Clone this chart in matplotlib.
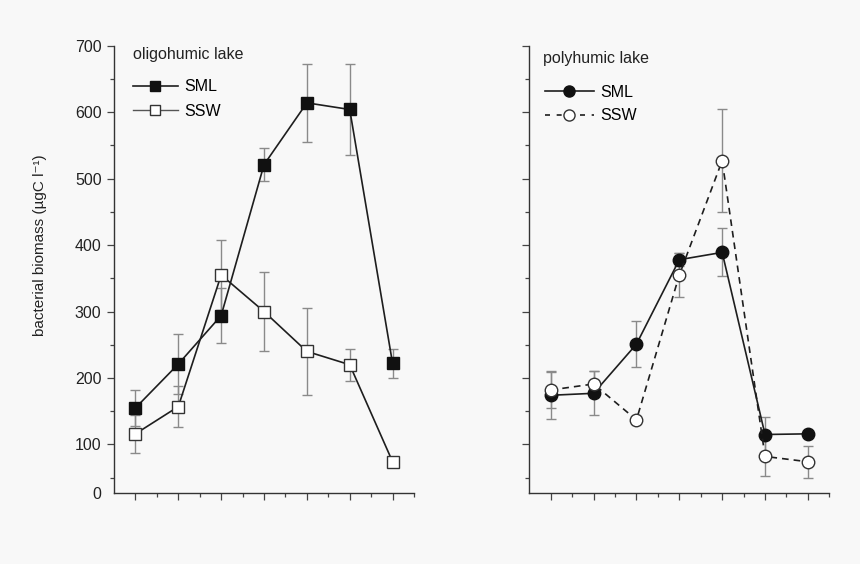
import numpy as np
import matplotlib.pyplot as plt
from matplotlib.lines import Line2D

plt.rcParams['font.family'] = ['Liberation Sans', 'DejaVu Sans']

x = np.arange(1, 8)

# oligohumic lake
oli_sml = [155, 221, 294, 521, 614, 604, 222]
oli_sml_err = [27, 45, 41, 25, 59, 68, 22]
oli_ssw = [116, 157, 355, 300, 240, 220, 74]
oli_ssw_err = [29, 31, 52, 60, 66, 24, 3]

# polyhumic lake
poly_sml = [174, 177, 251, 378, 389, 115, 116]
poly_sml_err = [36, 33, 35, 10, 36, 27, 4]
poly_ssw = [182, 191, 137, 355, 527, 82, 74]
poly_ssw_err = [27, 20, 6, 33, 77, 29, 24]

ytick_vals = [100, 200, 300, 400, 500, 600, 700]
ytick_labels = ['100', '200', '300', '400', '500', '600', '700']
y_bottom = 27

bg = '#f8f8f8'
dark = '#1e1e1e'
errc = '#8a8a8a'

fig = plt.figure(figsize=(8.6, 5.64), dpi=100, facecolor=bg)
ax1 = fig.add_axes([0.1326, 0.1259, 0.3488, 0.7931])
ax2 = fig.add_axes([0.6155, 0.1259, 0.3488, 0.7931])


def style_axis(ax, labels):
    ax.set_facecolor(bg)
    ax.spines['top'].set_visible(False)
    ax.spines['right'].set_visible(False)
    for s in ['left', 'bottom']:
        ax.spines[s].set_color('#333333')
        ax.spines[s].set_linewidth(1.0)
    ax.set_xlim(0.5, 7.5)
    ax.set_ylim(y_bottom, 700)
    ax.set_xticks(x)
    ax.set_xticks(np.arange(1.5, 8, 1), minor=True)
    ax.set_xticklabels([])
    if labels:
        ax.set_yticks([y_bottom] + ytick_vals)
        ax.set_yticklabels(['0'] + ytick_labels, fontsize=11.5, color='#222222')
        ax.yaxis.get_major_ticks()[0].tick1line.set_visible(False)
    else:
        ax.set_yticks(ytick_vals)
        ax.set_yticklabels([])
    ax.set_yticks(np.arange(50, 700, 100), minor=True)
    ax.tick_params(which='major', length=5, width=0.9, color='#444444', direction='out', pad=4)
    ax.tick_params(which='minor', length=3, width=0.9, color='#444444', direction='out')


style_axis(ax1, True)
style_axis(ax2, False)

# left panel
ax1.errorbar(x, oli_ssw, yerr=oli_ssw_err, fmt='none', ecolor=errc, elinewidth=1, capsize=3.5, capthick=1, clip_on=False, zorder=2)
ax1.errorbar(x, oli_sml, yerr=oli_sml_err, fmt='none', ecolor=errc, elinewidth=1, capsize=3.5, capthick=1, clip_on=False, zorder=2)
ax1.plot(x, oli_sml, '-', color=dark, lw=1.2, marker='s', ms=8.5, mfc='#111111', mec='#111111', clip_on=False, zorder=3)
ax1.plot(x, oli_ssw, '-', color=dark, lw=1.2, marker='s', ms=8.5, mfc='white', mec='#333333', mew=1, clip_on=False, zorder=4)

ax1.text(0.063, 0.98, 'oligohumic lake', transform=ax1.transAxes, fontsize=11.5, color='#222222', va='center', ha='left')
h1 = [Line2D([], [], color=dark, lw=1.2, marker='s', ms=7, mfc='#111111', mec='#111111'),
      Line2D([], [], color='#555555', lw=1.0, marker='s', ms=7, mfc='white', mec='#333333')]
ax1.legend(h1, ['SML', 'SSW'], loc='upper left', bbox_to_anchor=(0.063, 0.925), frameon=False,
           fontsize=11.5, handlelength=2.8, handletextpad=0.4, labelspacing=0.6, borderpad=0, borderaxespad=0)

ax1.set_ylabel('bacterial biomass (\u00b5gC l\u207b\u00b9)', fontsize=11, color='#222222')
ax1.yaxis.set_label_coords(-0.225, 0.553)

# right panel
ax2.errorbar(x, poly_ssw, yerr=poly_ssw_err, fmt='none', ecolor=errc, elinewidth=1, capsize=3.5, capthick=1, clip_on=False, zorder=2)
ax2.errorbar(x, poly_sml, yerr=poly_sml_err, fmt='none', ecolor=errc, elinewidth=1, capsize=3.5, capthick=1, clip_on=False, zorder=2)
ax2.plot(x, poly_sml, '-', color=dark, lw=1.2, marker='o', ms=9, mfc='#111111', mec='#111111', clip_on=False, zorder=3)
ax2.plot(x, poly_ssw, '--', color=dark, lw=1.2, dashes=(4, 3), marker='o', ms=9, mfc='white', mec='#333333', mew=1, clip_on=False, zorder=4)

ax2.text(0.046, 0.972, 'polyhumic lake', transform=ax2.transAxes, fontsize=11.5, color='#222222', va='center', ha='left')
h2 = [Line2D([], [], color=dark, lw=1.2, marker='o', ms=8, mfc='#111111', mec='#111111'),
      Line2D([], [], color=dark, lw=1.2, ls='--', dashes=(3, 4), marker='o', ms=8, mfc='white', mec='#333333')]
ax2.legend(h2, ['SML', 'SSW'], loc='upper left', bbox_to_anchor=(0.052, 0.913), frameon=False,
           fontsize=11.5, handlelength=3.05, handletextpad=0.4, labelspacing=0.55, borderpad=0, borderaxespad=0)

fig.savefig('out.png', dpi=100, facecolor=bg)
